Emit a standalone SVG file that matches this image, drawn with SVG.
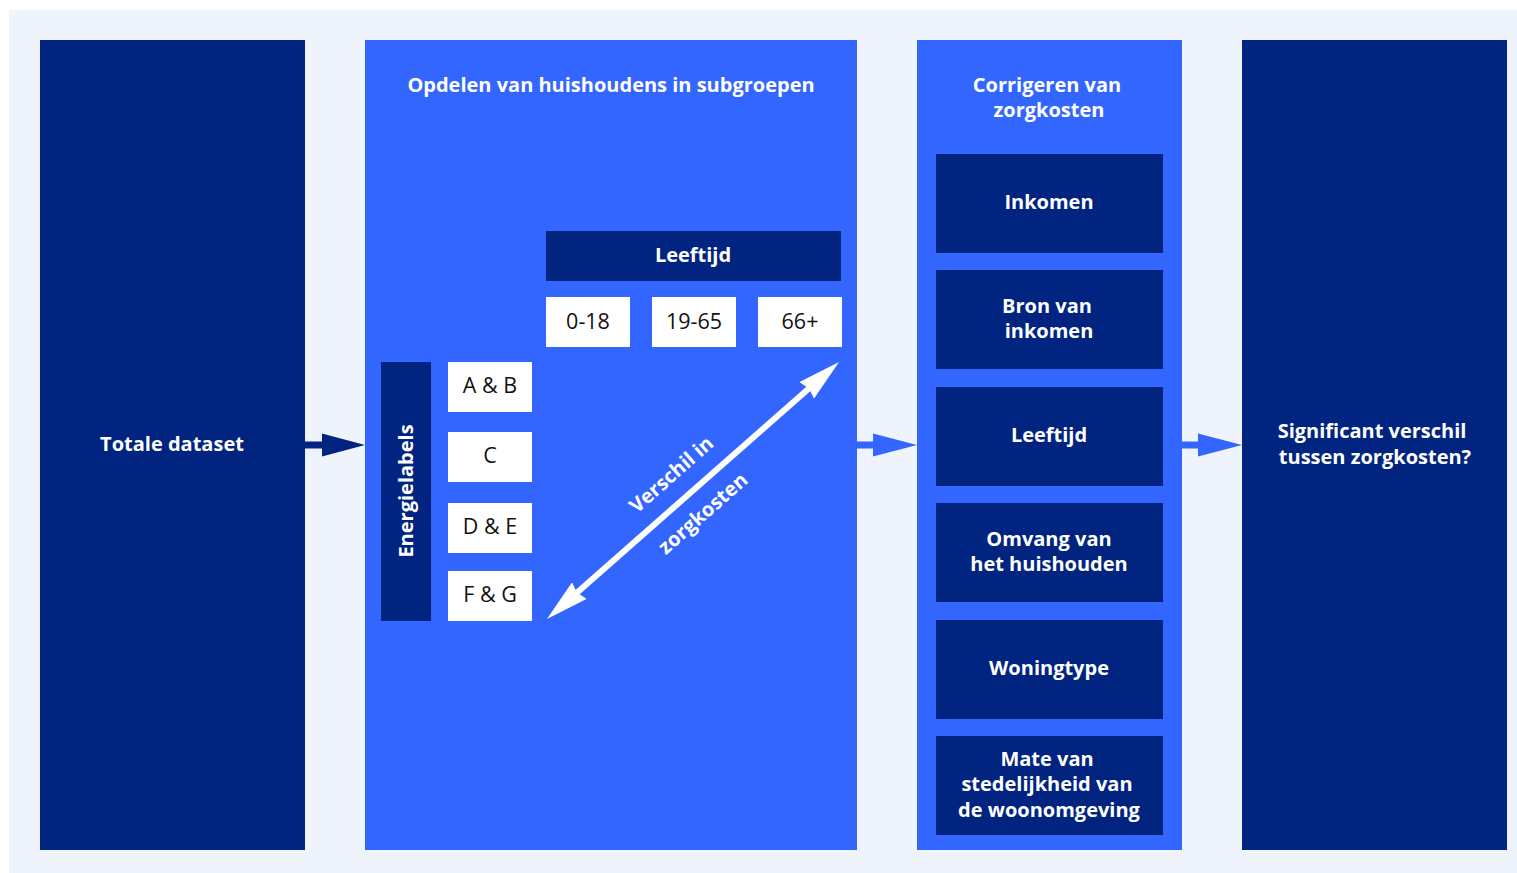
<svg xmlns="http://www.w3.org/2000/svg" width="1517" height="873" viewBox="0 0 1517 873">
  <style>
    .dark { fill: #00247f; }
    .bright { fill: #3366ff; }
    .cell { fill: #ffffff; }
    .lbl { font-family: "Open Sans", "Liberation Sans", sans-serif; font-weight: 700; font-size: 20px; fill: #ffffff; text-anchor: middle; }
    .cellt { font-family: "Open Sans", "Liberation Sans", sans-serif; font-size: 21.5px; fill: #111111; text-anchor: middle; }
  </style>
  <defs>
    <!-- arrowhead for the double-headed cost arrow; tip sits 30px past the line end -->
    <marker id="head" viewBox="0 0 43 22" refX="13" refY="11" markerWidth="43" markerHeight="22" markerUnits="userSpaceOnUse" orient="auto-start-reverse">
      <path d="M0,0 L43,11 L0,22 L3,11 Z" fill="#ffffff"/>
    </marker>
  </defs>

  <rect x="9" y="10" width="1508" height="863" fill="#eff3fb"/>

  <g id="connectors">
    <path d="M305,441.5 H322 V433.5 L365,445 L322,456.5 V448.5 H305 Z" fill="#00247f"/>
    <path d="M857,441.5 H873 V433.5 L917,445 L873,456.5 V448.5 H857 Z" fill="#3366ff"/>
    <path d="M1182,441.5 H1198 V433.5 L1242,445 L1198,456.5 V448.5 H1182 Z" fill="#3366ff"/>
  </g>

  <g id="totale-dataset">
    <rect class="dark" x="40" y="40" width="265" height="810"/>
    <text class="lbl" x="172" y="451">Totale dataset</text>
  </g>

  <g id="subgroepen">
    <rect class="bright" x="365" y="40" width="492" height="810"/>
    <text class="lbl" x="611" y="92">Opdelen van huishoudens in subgroepen</text>

    <g id="leeftijd-as">
      <rect class="dark" x="546" y="231" width="295" height="50"/>
      <text class="lbl" x="693" y="262">Leeftijd</text>
      <rect class="cell" x="546" y="297" width="84" height="50"/>
      <text class="cellt" x="588" y="329">0-18</text>
      <rect class="cell" x="652" y="297" width="84" height="50"/>
      <text class="cellt" x="694" y="329">19-65</text>
      <rect class="cell" x="758" y="297" width="84" height="50"/>
      <text class="cellt" x="800" y="329">66+</text>
    </g>

    <g id="energielabel-as">
      <rect class="dark" x="381" y="362" width="50" height="259"/>
      <text class="lbl" transform="translate(413,491) rotate(-90)">Energielabels</text>
      <rect class="cell" x="448" y="362" width="84" height="50"/>
      <text class="cellt" x="490" y="393">A &amp; B</text>
      <rect class="cell" x="448" y="432" width="84" height="50"/>
      <text class="cellt" x="490" y="463">C</text>
      <rect class="cell" x="448" y="503" width="84" height="50"/>
      <text class="cellt" x="490" y="534">D &amp; E</text>
      <rect class="cell" x="448" y="571" width="84" height="50"/>
      <text class="cellt" x="490" y="602">F &amp; G</text>
    </g>

    <g id="verschil">
      <line x1="569.5" y1="599.2" x2="816.5" y2="381.8" stroke="#ffffff" stroke-width="6" marker-start="url(#head)" marker-end="url(#head)"/>
      <g transform="translate(693,490) rotate(-41.35)">
        <text class="lbl" x="-6" y="-19">Verschil in</text>
        <text class="lbl" x="-8" y="31">zorgkosten</text>
      </g>
    </g>
  </g>

  <g id="corrigeren">
    <rect class="bright" x="917" y="40" width="265" height="810"/>
    <text class="lbl" x="1047" y="92">Corrigeren van</text>
    <text class="lbl" x="1049" y="117">zorgkosten</text>
    <rect class="dark" x="936" y="154" width="227" height="99"/>
    <text class="lbl" x="1049" y="209">Inkomen</text>
    <rect class="dark" x="936" y="270" width="227" height="99"/>
    <text class="lbl" x="1047" y="313">Bron van</text>
    <text class="lbl" x="1049" y="338">inkomen</text>
    <rect class="dark" x="936" y="387" width="227" height="99"/>
    <text class="lbl" x="1049" y="442">Leeftijd</text>
    <rect class="dark" x="936" y="503" width="227" height="99"/>
    <text class="lbl" x="1049" y="546">Omvang van</text>
    <text class="lbl" x="1049" y="571">het huishouden</text>
    <rect class="dark" x="936" y="620" width="227" height="99"/>
    <text class="lbl" x="1049" y="675">Woningtype</text>
    <rect class="dark" x="936" y="736" width="227" height="99"/>
    <text class="lbl" x="1047" y="766">Mate van</text>
    <text class="lbl" x="1047" y="791">stedelijkheid van</text>
    <text class="lbl" x="1049" y="817">de woonomgeving</text>
  </g>

  <g id="significant">
    <rect class="dark" x="1242" y="40" width="265" height="810"/>
    <text class="lbl" x="1372" y="438">Significant verschil</text>
    <text class="lbl" x="1375" y="464">tussen zorgkosten?</text>
  </g>
</svg>
